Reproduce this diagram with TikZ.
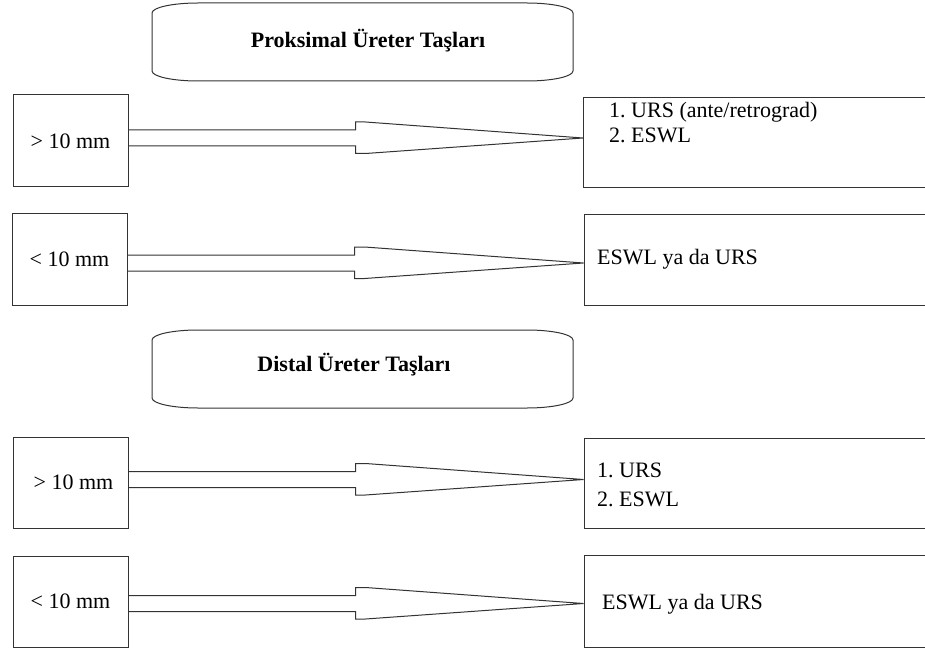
\documentclass[tikz,border=0pt]{standalone}
\usepackage{fontspec}
\setmainfont{Liberation Serif}
\usetikzlibrary{calc}
\frenchspacing
\tikzset{
  boxline/.style={draw=black!80, line width=1pt},
  leftbox/.style={boxline, minimum width=115pt, inner sep=0pt, font=\fontsize{22}{26}\selectfont},
  rightbox/.style={boxline, minimum width=360pt, inner sep=0pt, anchor=north west},
  rtext/.style={anchor=base west, inner sep=0pt, font=\fontsize{22}{26}\selectfont},
  ttext/.style={anchor=base, inner sep=0pt, font=\bfseries\fontsize{22}{26}\selectfont},
  fat/.style={draw=black!80, line width=1pt, line join=miter},
  ttlshape/.style={draw=black!80, line width=1pt},
}
\newcommand\fatarrow[3]{%
  \coordinate (#1s) at (#1.east |- 0,#3);
  \coordinate (#2e) at (#2.west |- 0,#3);
  \draw[fat] ($(#1s)+(0,-8)$) -- ($(#1s)+(227,-8)$) -- ($(#1s)+(227,-16)$)
    -- ($(#1s)+(237,-16)$) -- (#2e) -- ($(#1s)+(237,15.5)$) -- ($(#1s)+(227,15.5)$)
    -- ($(#1s)+(227,8)$) -- ($(#1s)+(0,8)$);
}
\newcommand\ttlpath{(152,10) .. controls (152,4.5) and (172.6,0) .. (198,0) -- (527,0)
  .. controls (552.4,0) and (573,4.5) .. (573,10) -- (573,68)
  .. controls (573,73.5) and (552.4,78) .. (527,78) -- (198,78)
  .. controls (172.6,78) and (152,73.5) .. (152,68) -- cycle}
\begin{document}
\begin{tikzpicture}[x=1pt,y=-1pt]
\useasboundingbox (0,0) rectangle (925,652);
\clip (0,0) rectangle (925,652);
\fill[white] (0,0) rectangle (925,652);

% titles
\draw[ttlshape, shift={(0,3)}] \ttlpath;
\node[ttext] (title1) at (368,48) {Proksimal Üreter Taşları};
\draw[ttlshape, shift={(0,330)}] \ttlpath;
\node[ttext] (title2) at (354,371) {Distal Üreter Taşları};

% left boxes
\node[leftbox, minimum height=92pt] (b1) at (70.5,141) {> 10 mm};
\node[leftbox, minimum height=91pt] (b2) at (69.5,259.5) {< 10 mm};
\node[leftbox, minimum height=91pt] (b3) at (70.5,482.5) {\hspace*{6pt}> 10 mm};
\node[leftbox, minimum height=91pt] (b4) at (70.5,601.5) {< 10 mm};

% right boxes
\node[rightbox, minimum height=90pt] (r1) at (583,97) {};
\node[rightbox, minimum height=91pt] (r2) at (583.5,214) {};
\node[rightbox, minimum height=90pt] (r3) at (583.5,438) {};
\node[rightbox, minimum height=92pt] (r4) at (583.5,555) {};

\node[rtext] (t1a) at (609,118) {1. URS (ante/retrograd)};
\node[rtext] (t1b) at (609,143) {2. ESWL};
\node[rtext] (t2) at (597,264) {ESWL ya da URS};
\node[rtext] (t3a) at (597,477) {1. URS};
\node[rtext] (t3b) at (597,506) {2. ESWL};
\node[rtext] (t4) at (602,609) {ESWL ya da URS};

% arrows
\fatarrow{b1}{r1}{138}
\fatarrow{b2}{r2}{263}
\fatarrow{b3}{r3}{479.5}
\fatarrow{b4}{r4}{603.5}
\end{tikzpicture}
\end{document}
